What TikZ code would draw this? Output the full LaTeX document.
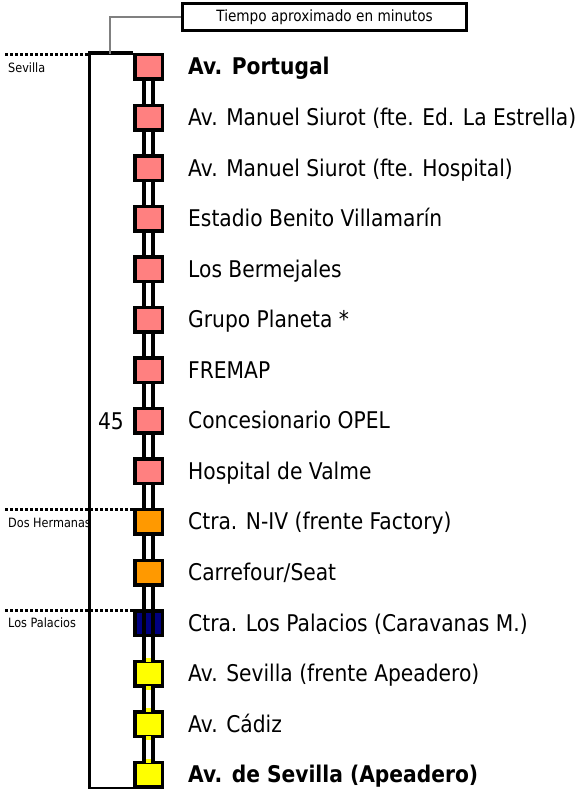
\documentclass[tikz,border=0pt]{standalone}
\usepackage{fontspec}
\setmainfont{DejaVu Sans}[FakeStretch=0.88]
\usetikzlibrary{backgrounds}
\definecolor{pinkc}{HTML}{FF8080}
\definecolor{orangec}{HTML}{FF9900}
\definecolor{navyc}{HTML}{000080}
\definecolor{yellowc}{HTML}{FFFF00}
\tikzset{
  stopbox/.style={draw, line width=3.5pt, minimum width=27.5pt, minimum height=24.5pt, inner sep=0pt},
  lbl/.style={anchor=base west, inner sep=0pt, font=\fontsize{23}{27}\selectfont},
  small/.style={anchor=base west, inner sep=0pt, font=\fontsize{12.8}{15}\selectfont},
  rail/.style={line width=3.5pt},
  frame/.style={line width=3.5pt},
  dotline/.style={line width=3pt, dash pattern=on 2.5pt off 2.5pt},
  titlebox/.style={draw, line width=3pt, minimum width=284pt, minimum height=27pt, inner sep=0pt, font=\fontsize{15.5}{18}\selectfont},
}
\begin{document}
\begin{tikzpicture}[x=1pt,y=-1pt]
\useasboundingbox (0,0) rectangle (577,789);
% region labels (behind frame)
\node[small] (lsev) at (8,72.5) {Sevilla};
\node[small] (ldos) at (8,527.5) {Dos Hermanas};
\node[small] (lpal) at (8,627.5) {Los Palacios};
\draw[dotline] (5,54.5) -- (89,54.5);
\draw[dotline] (5,509.5) -- (133,509.5);
\draw[dotline] (5,610.5) -- (133,610.5);
% stops
\foreach \i/\c/\t in {
  0/pinkc/{\textbf{Av. Portugal}},
  1/pinkc/{Av. Manuel Siurot (fte. Ed. La Estrella)},
  2/pinkc/{Av. Manuel Siurot (fte. Hospital)},
  3/pinkc/{Estadio Benito Villamarín},
  4/pinkc/{Los Bermejales},
  5/pinkc/{Grupo Planeta *},
  6/pinkc/{FREMAP},
  7/pinkc/{Concesionario OPEL},
  8/pinkc/{Hospital de Valme},
  9/orangec/{Ctra. N-IV (frente Factory)},
  10/orangec/{Carrefour/Seat},
  11/navyc/{Ctra. Los Palacios (Caravanas M.)},
  12/yellowc/{Av. Sevilla (frente Apeadero)},
  13/yellowc/{Av. Cádiz},
  14/yellowc/{\textbf{Av. de Sevilla (Apeadero)}}}
{
  \node[stopbox, fill=\c] (b\i) at (148.5,{67+50.55*\i}) {};
  \node[lbl] (t\i) at (188,{75+50.55*\i}) {\t};
}
% rail between stops
\begin{pgfonlayer}{background}
\foreach \i [evaluate=\i as \j using int(\i+1)] in {0,...,13}{
  \draw[rail] ([xshift=-4.5pt]b\i.south) -- ([xshift=-4.5pt]b\j.north);
  \draw[rail] ([xshift=4.5pt]b\i.south) -- ([xshift=4.5pt]b\j.north);
}
\end{pgfonlayer}
% rail through the navy stop
\draw[rail] ([xshift=-4.5pt]b11.north) -- ([xshift=-4.5pt]b11.south);
\draw[rail] ([xshift=4.5pt]b11.north) -- ([xshift=4.5pt]b11.south);
% gaps in yellow borders
\foreach \i in {12,13,14}{
  \fill[yellowc] ([xshift=-2.75pt,yshift=2pt]b\i.north) rectangle ([xshift=2.75pt,yshift=-2pt]b\i.north);
}
\foreach \i in {12,13}{
  \fill[yellowc] ([xshift=-2.75pt,yshift=2pt]b\i.south) rectangle ([xshift=2.75pt,yshift=-2pt]b\i.south);
}
% frame
\draw[frame] (b0.north west) -- ++(-43.5,0) coordinate (ftl) |- (b14.south west);
% minutes label
\node[lbl, anchor=base east] (min45) at (124,429) {45};
% title box
\node[titlebox] (title) at (324.5,17) {Tiempo aproximado en minutos};
\coordinate (gl) at (110,54);
\draw[gray, line width=1.5pt] (title.west) -| (gl);
\end{tikzpicture}
\end{document}
